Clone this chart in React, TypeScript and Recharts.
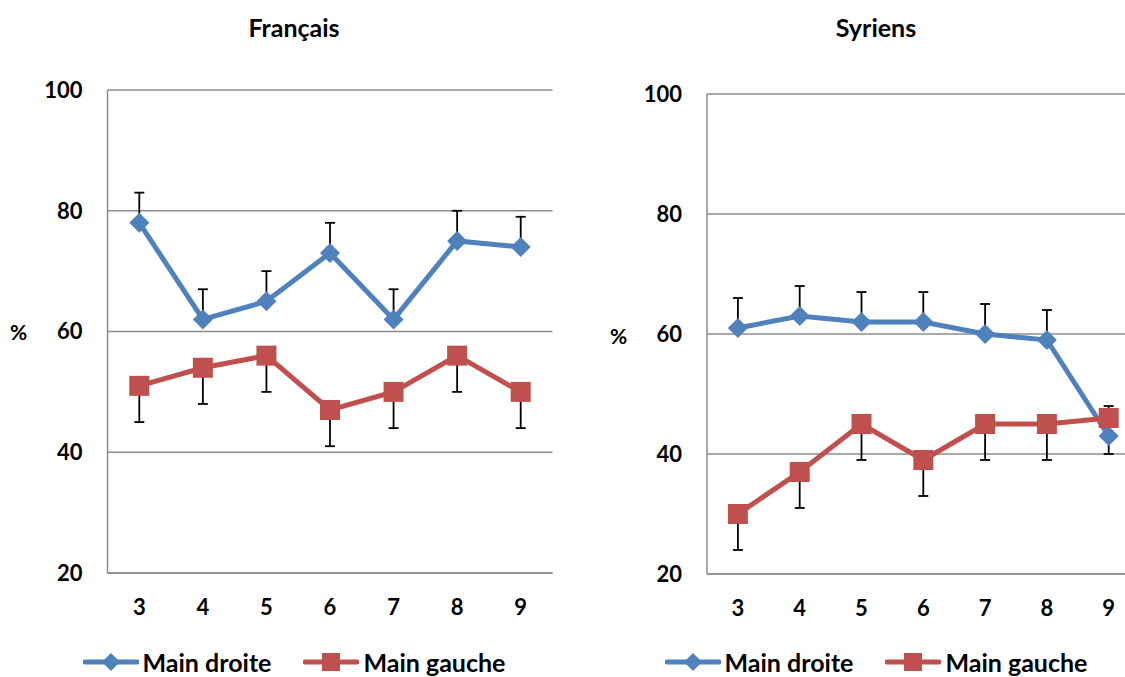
import { LineChart, Line, XAxis, YAxis, CartesianGrid, Legend, ErrorBar } from 'recharts'

const ages = ['3', '4', '5', '6', '7', '8', '9']
const yTicks = [20, 40, 60, 80, 100]

const francaisDroite = [78, 62, 65, 73, 62, 75, 74]
const francaisDroiteErr = [5, 5, 5, 5, 5, 5, 5]
const francaisGauche = [51, 54, 56, 47, 50, 56, 50]
const francaisGaucheErr = [6, 6, 6, 6, 6, 6, 6]

const syriensDroite = [61, 63, 62, 62, 60, 59, 43]
const syriensDroiteErr = [5, 5, 5, 5, 5, 5, 5]
const syriensGauche = [30, 37, 45, 39, 45, 45, 46]
const syriensGaucheErr = [6, 6, 6, 6, 6, 6, 6]

const BLUE = '#4F81BD'
const RED = '#C0504D'
const GRID = '#8c8c8c'
const FONT = 'Lato, "Open Sans", sans-serif'

// droite bars go up only, gauche bars go down only: [below, above]
function makeRows(droite: number[], dErr: number[], gauche: number[], gErr: number[]) {
  return ages.map((age, i) => ({
    age,
    droite: droite[i],
    gauche: gauche[i],
    droiteErr: [0, dErr[i]],
    gaucheErr: [gErr[i], 0],
  }))
}

const diamondDot = (props: any) => {
  const { cx, cy, index } = props
  if (cx == null || cy == null) return <g key={index} />
  const r = 10
  return (
    <path
      key={index}
      d={`M${cx},${cy - r}L${cx + r},${cy}L${cx},${cy + r}L${cx - r},${cy}Z`}
      fill={BLUE}
    />
  )
}

const squareDot = (props: any) => {
  const { cx, cy, index } = props
  if (cx == null || cy == null) return <g key={index} />
  const h = 10
  return <rect key={index} x={cx - h} y={cy - h} width={h * 2} height={h * 2} fill={RED} />
}

const LegendIcon = ({ kind }: { kind: string }) => (
  <svg width={56} height={22} style={{ display: 'block' }}>
    <line x1={2} y1={11} x2={54} y2={11} stroke={kind === 'droite' ? BLUE : RED} strokeWidth={5} strokeLinecap="round" />
    {kind === 'droite' ? (
      <path d="M28,2L37,11L28,20L19,11Z" fill={BLUE} />
    ) : (
      <rect x={19} y={2} width={18} height={18} fill={RED} />
    )}
  </svg>
)

const renderLegend = (props: any) => {
  const { payload = [] } = props
  return (
    <div
      style={{
        display: 'flex',
        justifyContent: 'center',
        alignItems: 'center',
        fontFamily: FONT,
        fontWeight: 700,
        fontSize: 25,
        lineHeight: '24px',
        color: '#000',
        whiteSpace: 'nowrap',
      }}
    >
      {payload.map((entry: any, i: number) => (
        <div key={entry.dataKey} style={{ display: 'flex', alignItems: 'center', marginLeft: i === 0 ? 0 : 32 }}>
          <LegendIcon kind={entry.dataKey} />
          <span style={{ marginLeft: 4 }}>{entry.value}</span>
        </div>
      ))}
    </div>
  )
}

type PanelProps = {
  title: string
  left: number
  rows: ReturnType<typeof makeRows>
  plotTop: number
  xAxisHeight: number
  marginLeft: number
  marginRight: number
  halfBand: number
  legendCenter: number
}

const tickStyle = { fontFamily: FONT, fontWeight: 700, fontSize: 22, fill: '#000' }

function Panel({ title, left, rows, plotTop, xAxisHeight, marginLeft, marginRight, halfBand, legendCenter }: PanelProps) {
  return (
    <div style={{ position: 'absolute', left, top: 0, width: 560, height: 677 }}>
      <div
        style={{
          position: 'absolute',
          left: 0,
          top: 12,
          width: legendCenter * 2,
          textAlign: 'center',
          fontFamily: FONT,
          fontWeight: 700,
          fontSize: 25,
          lineHeight: '30px',
        }}
      >
        {title}
      </div>
      <div
        style={{
          position: 'absolute',
          left: 10,
          top: plotTop + 230,
          fontFamily: FONT,
          fontWeight: 700,
          fontSize: 21,
          lineHeight: '24px',
        }}
      >
        %
      </div>
      <LineChart
        width={560}
        height={677}
        data={rows}
        margin={{ top: plotTop, right: marginRight, left: marginLeft, bottom: 0 }}
      >
        <CartesianGrid vertical={false} stroke={GRID} strokeWidth={1.5} />
        <XAxis
          dataKey="age"
          height={xAxisHeight}
          padding={{ left: halfBand, right: halfBand }}
          tickSize={0}
          tickMargin={26}
          axisLine={{ stroke: GRID, strokeWidth: 1.5 }}
          tickLine={false}
          tick={tickStyle}
        />
        <YAxis
          width={60}
          domain={[20, 100]}
          ticks={yTicks}
          tickSize={0}
          tickMargin={25}
          axisLine={{ stroke: GRID, strokeWidth: 1.5 }}
          tickLine={false}
          tick={tickStyle}
        />
        <Legend
          verticalAlign="bottom"
          height={24}
          content={renderLegend}
          wrapperStyle={{ left: 0, width: legendCenter * 2, height: 24, bottom: 3 }}
        />
        <Line
          dataKey="droite"
          name="Main droite"
          stroke={BLUE}
          strokeWidth={5}
          dot={diamondDot}
          activeDot={false}
          isAnimationActive={false}
        >
          <ErrorBar dataKey="droiteErr" direction="y" width={5} stroke="#000" strokeWidth={1.8} />
        </Line>
        <Line
          dataKey="gauche"
          name="Main gauche"
          stroke={RED}
          strokeWidth={5}
          dot={squareDot}
          activeDot={false}
          isAnimationActive={false}
        >
          <ErrorBar dataKey="gaucheErr" direction="y" width={5} stroke="#000" strokeWidth={1.8} />
        </Line>
      </LineChart>
    </div>
  )
}

export default function App() {
  const francais = makeRows(francaisDroite, francaisDroiteErr, francaisGauche, francaisGaucheErr)
  const syriens = makeRows(syriensDroite, syriensDroiteErr, syriensGauche, syriensGaucheErr)
  return (
    <div
      style={{
        position: 'fixed',
        left: 0,
        top: 0,
        width: 1125,
        height: 677,
        overflow: 'hidden',
        background: '#fff',
      }}
    >
      <Panel
        title="Français"
        left={0}
        rows={francais}
        plotTop={90}
        xAxisHeight={80}
        marginLeft={47.5}
        marginRight={7.5}
        halfBand={31.8}
        legendCenter={294}
      />
      <Panel
        title="Syriens"
        left={600}
        rows={syriens}
        plotTop={94}
        xAxisHeight={79}
        marginLeft={47}
        marginRight={20.4}
        halfBand={30.9}
        legendCenter={276}
      />
    </div>
  )
}
